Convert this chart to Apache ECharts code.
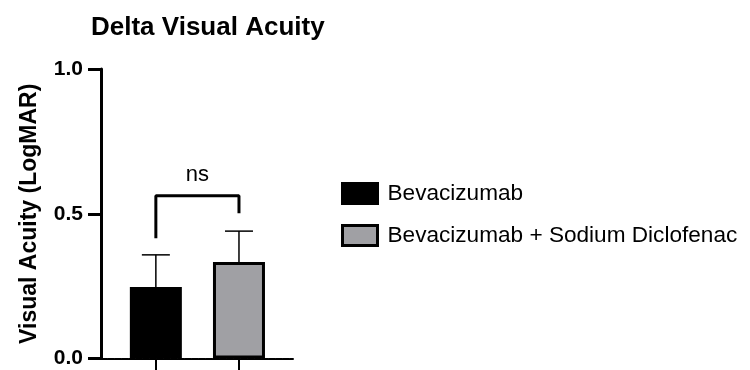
<!DOCTYPE html>
<html>
<head>
<meta charset="utf-8">
<script src="https://cdn.jsdelivr.net/npm/echarts@6/dist/echarts.min.js"></script>
<style>html,body{margin:0;padding:0;background:#fff;}#c{width:750px;height:370px;}</style>
</head>
<body>
<div id="c"></div>
<script>
var groups = ['Bevacizumab', 'Bevacizumab + Sodium Diclofenac'];
var means = [0.247, 0.333];
var sds = [0.111, 0.107];
var colors = ['#000000', '#a0a0a4'];
var yTicks = [0, 0.5, 1.0];
var bracketLeft = 0.415, bracketTop = 0.562, bracketRight = 0.5015;
var sigLabel = 'ns';

var chart = echarts.init(document.getElementById('c'));
var font = 'Arial, "Liberation Sans", Helvetica, sans-serif';

var series = groups.map(function (g, i) {
  return {
    name: g,
    type: 'bar',
    barWidth: 52,
    barGap: '-100%',
    data: [[i, means[i]]],
    itemStyle: { color: colors[i], borderColor: '#000', borderWidth: 3 },
    z: 2
  };
});

series.push({
  type: 'custom',
  name: 'err',
  data: means.map(function (m, i) { return [i, m, m + sds[i]]; }),
  renderItem: function (params, api) {
    var x = api.value(0);
    var p0 = api.coord([x, api.value(1)]);
    var p1 = api.coord([x, api.value(2)]);
    var hw = 14;
    return {
      type: 'group',
      children: [
        { type: 'line', shape: { x1: p0[0], y1: p0[1], x2: p1[0], y2: p1[1] }, style: { stroke: '#000', lineWidth: 1.5 } },
        { type: 'line', shape: { x1: p1[0] - hw, y1: p1[1], x2: p1[0] + hw, y2: p1[1] }, style: { stroke: '#000', lineWidth: 1.5 } }
      ]
    };
  },
  z: 1,
  silent: true
});

series.push({
  type: 'line',
  name: 'bracket',
  data: [[0, bracketLeft], [0, bracketTop], [1, bracketTop], [1, bracketRight]],
  symbol: 'none',
  lineStyle: { color: '#000', width: 3 },
  silent: true,
  z: 3
});

series.push({
  type: 'scatter',
  name: 'sig',
  data: [[0.5, 0.634]],
  symbolSize: 0,
  itemStyle: { color: '#000' },
  label: { show: true, position: 'inside', formatter: sigLabel, fontSize: 22, color: '#000000', opacity: 1, textBorderWidth: 0, fontFamily: font },
  emphasis: { disabled: true },
  silent: true,
  z: 5
});

chart.setOption({
  animation: false,
  backgroundColor: '#fff',
  title: {
    text: 'Delta Visual Acuity',
    left: 86, top: 10,
    textStyle: { fontSize: 26, fontWeight: 'bold', color: '#000', fontFamily: font }
  },
  legend: {
    left: 336, top: 177,
    orient: 'vertical',
    itemWidth: 35, itemHeight: 20, itemGap: 19,
    icon: 'rect',
    data: groups.map(function (g, i) {
      return { name: g, itemStyle: { color: colors[i], borderColor: '#000', borderWidth: 3 } };
    }),
    textStyle: { fontSize: 22.6, color: '#000', fontFamily: font, padding: [0, 0, 0, 5], lineHeight: 20 }
  },
  grid: { left: 101, right: 457, top: 69, bottom: 11.5, containLabel: false },
  xAxis: {
    type: 'value',
    min: -0.66, max: 1.65,
    splitLine: { show: false },
    axisLine: { show: true, onZero: false, lineStyle: { color: '#000', width: 2, type: [6, 1] } },
    axisTick: { show: true, customValues: [0, 1], length: 12, lineStyle: { color: '#000', width: 2 } },
    axisLabel: { show: false }
  },
  yAxis: {
    type: 'value',
    min: 0, max: 1.0, interval: 0.5,
    name: 'Visual Acuity (LogMAR)',
    nameLocation: 'middle',
    nameGap: 60,
    nameTextStyle: { fontSize: 23, fontWeight: 'bold', color: '#000', fontFamily: font },
    splitLine: { show: false },
    axisLine: { show: true, onZero: false, lineStyle: { color: '#000', width: 3 } },
    axisTick: { show: true, length: 13, lineStyle: { color: '#000', width: 3 } },
    axisLabel: {
      margin: 18, fontSize: 21, fontWeight: 'bold', color: '#000', fontFamily: font,
      formatter: function (v) { return v.toFixed(1); }
    }
  },
  series: series
});
</script>
</body>
</html>
